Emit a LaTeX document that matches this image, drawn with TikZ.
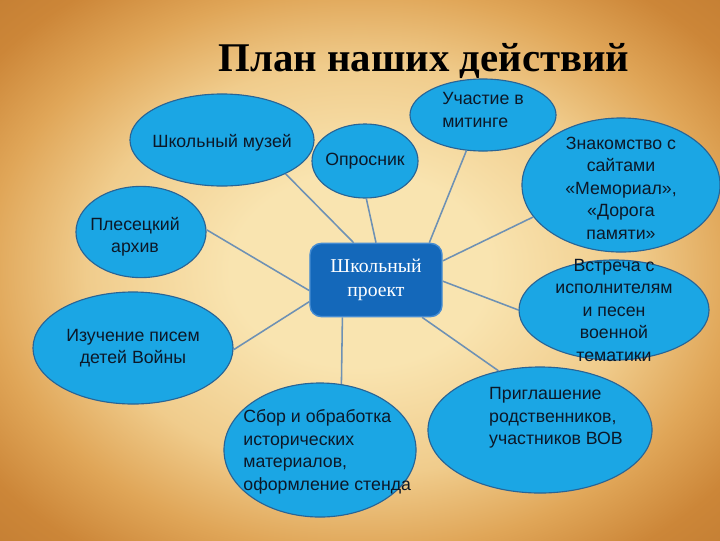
\documentclass[tikz,border=0pt]{standalone}
\usepackage{fontspec}
\setmainfont{Liberation Serif}
\newfontfamily\bubblefont{Liberation Sans}
\usetikzlibrary{shapes.geometric}

\definecolor{bgA}{RGB}{249,228,176}
\definecolor{bgB}{RGB}{240,204,140}
\definecolor{bgC}{RGB}{224,166,88}
\definecolor{bgD}{RGB}{204,134,56}
\definecolor{bgE}{RGB}{172,104,36}
\definecolor{bubblefill}{RGB}{27,166,228}
\definecolor{bubbleline}{RGB}{40,100,150}
\definecolor{hubfill}{RGB}{20,104,186}
\definecolor{hubline}{RGB}{70,140,210}
\definecolor{linkcol}{RGB}{110,145,180}
\definecolor{bubbletext}{RGB}{12,24,40}

\pgfdeclareradialshading{parchment}{\pgfpoint{0bp}{0bp}}{color(0bp)=(bgA); color(9bp)=(bgA); color(19bp)=(bgB); color(26bp)=(bgC); color(32bp)=(bgD); color(50bp)=(bgE)}

\begin{document}
\begin{tikzpicture}[x=0.025cm,y=-0.025cm,
    bubble/.style 2 args={ellipse, draw=bubbleline, line width=0.8pt, fill=bubblefill,
      minimum width=#1, minimum height=#2, inner sep=0pt},
    txt/.style={font=\bubblefont\fontsize{12.6}{16}\selectfont, text=bubbletext, inner sep=0pt},
    hub/.style={rectangle, rounded corners=8pt, draw=hubline, line width=1pt, fill=hubfill,
      minimum width=3.3cm, minimum height=1.83cm, text=white, align=center,
      font=\fontsize{14}{17.5}\selectfont},
    link/.style={draw=linkcol, line width=1.1pt}]

  \shade[shading=parchment] (0,0) rectangle (720,540);
  \useasboundingbox (0,0) rectangle (720,540);

  \node[font=\bfseries\fontsize{29}{34}\selectfont, anchor=base] (title) at (424,71) {План наших действий};

  \node[hub] (proj) at (376,280) {Школьный\\проект};

  \node[bubble={4.6cm}{2.3cm}, label={[txt, yshift=-0.08cm]center:{Школьный музей}}] (muz) at (222,140) {};
  \node[bubble={2.65cm}{1.85cm}, label={[txt]center:{Опросник}}] (opr) at (365,161) {};
  \node[bubble={3.65cm}{1.8cm}, label={[txt, align=left, yshift=0.12cm]center:{Участие в\\митинге}}] (mit) at (483,115) {};
  \node[bubble={4.95cm}{3.35cm}, label={[txt, align=center, yshift=-0.08cm]center:{Знакомство с\\сайтами\\«Мемориал»,\\«Дорога\\памяти»}}] (sites) at (621,185) {};
  \node[bubble={3.25cm}{2.28cm}, label={[txt, align=center, xshift=-0.15cm, yshift=-0.12cm]center:{Плесецкий\\архив}}] (arch) at (141,232) {};
  \node[bubble={5cm}{2.8cm}, label={[txt, align=center]center:{Изучение писем\\детей Войны}}] (lett) at (133,348) {};
  \node[bubble={4.75cm}{2.5cm}, label={[txt, align=center]center:{Встреча с\\исполнителям\\и песен\\военной\\тематики}}] (meet) at (614,310) {};
  \node[bubble={4.8cm}{3.35cm}, label={[txt, align=left, xshift=0.18cm, yshift=-0.05cm]center:{Сбор и обработка\\исторических\\материалов,\\оформление стенда}}] (coll) at (320,450) {};
  \node[bubble={5.6cm}{3.15cm}, label={[txt, align=left, xshift=0.4cm, yshift=0.3cm]center:{Приглашение\\родственников,\\участников ВОВ}}] (inv) at (540,430) {};

  % spokes
  \draw[link] (proj.121) -- (muz.-28);
  \draw[link] (proj.90) -- (opr.-88);
  \draw[link] (proj.35) -- (mit.245);
  \draw[link] (proj.16) -- (sites.200);
  \draw[link] (proj.-1) -- (meet.180);
  \draw[link] (proj.-39) -- (inv.125);
  \draw[link] (proj.228) -- (coll.72);
  \draw[link] (proj.198) -- (lett.-1);
  \draw[link] (proj.189) -- (arch.2);
\end{tikzpicture}
\end{document}
